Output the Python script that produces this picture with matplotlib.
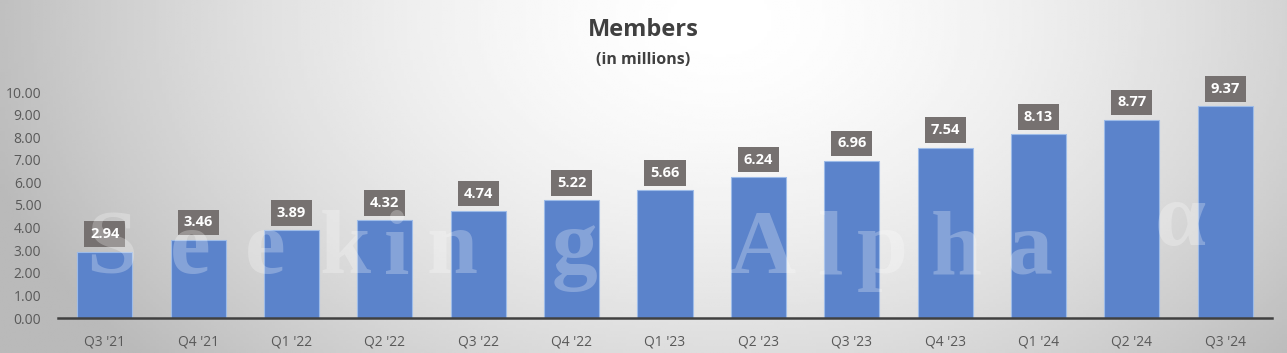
import matplotlib.pyplot as plt
import numpy as np

# ---------- data ----------
quarters = ["Q3 '21", "Q4 '21", "Q1 '22", "Q2 '22", "Q3 '22", "Q4 '22", "Q1 '23",
            "Q2 '23", "Q3 '23", "Q4 '23", "Q1 '24", "Q2 '24", "Q3 '24"]
members = [2.94, 3.46, 3.89, 4.32, 4.74, 5.22, 5.66, 6.24, 6.96, 7.54, 8.13, 8.77, 9.37]
y_ticks = [0, 1, 2, 3, 4, 5, 6, 7, 8, 9, 10]

BAR_COLOR = "#5b83cb"
LABEL_BG = "#767170"
TEXT_GRAY = "#595959"
FONT = "Open Sans"

W, H = 1287, 353
fig = plt.figure(figsize=(W / 100, H / 100), dpi=100)

# ---------- radial gradient background ----------
bg = fig.add_axes([0, 0, 1, 1], zorder=0)
xx, yy = np.meshgrid(np.linspace(0, W, 400), np.linspace(0, H, 120))
d = np.sqrt(((xx - 720) / 760) ** 2 + ((yy - 20) / 520) ** 2)
shade = 1 - 0.27 * np.clip(d, 0, 1) ** 1.6
bg.imshow(shade, cmap="gray", vmin=0, vmax=1, extent=[0, W, H, 0], aspect="auto")
bg.set_axis_off()

# ---------- bars ----------
ax = fig.add_axes([58 / W, 35 / H, (1272 - 58) / W, (318 - 92) / H], zorder=1)
ax.patch.set_alpha(0)
x = np.arange(len(quarters))
bars = ax.bar(x, members, width=0.59, color=BAR_COLOR, edgecolor="#9dbbe8",
              linewidth=0.8, zorder=2)

for xi, val in zip(x, members):
    ax.annotate(f"{val:.2f}", (xi, val), xytext=(0, 12.5), textcoords="offset points",
                ha="center", va="center", color="white", fontsize=10.5,
                fontweight="bold", family=FONT, annotation_clip=False, zorder=4,
                bbox=dict(boxstyle="square,pad=0.4", fc=LABEL_BG, ec="none"))

ax.set_xlim(-0.5, 12.5)
ax.set_ylim(0, 10)
ax.set_xticks(x)
ax.set_xticklabels(quarters)
ax.set_yticks(y_ticks)
ax.set_yticklabels([f"{v:.2f}" for v in y_ticks])
ax.tick_params(axis="both", length=0, labelsize=10, labelcolor=TEXT_GRAY)
ax.tick_params(axis="x", pad=12)
ax.tick_params(axis="y", pad=12)
for lab in ax.get_xticklabels() + ax.get_yticklabels():
    lab.set_family(FONT)

for side in ["top", "right", "left"]:
    ax.spines[side].set_visible(False)
ax.spines["bottom"].set_color("#404040")
ax.spines["bottom"].set_linewidth(1.8)
ax.spines["bottom"].set_zorder(3)

# ---------- titles ----------
fig.text(0.5, 1 - 30 / H, "Members", ha="center", va="center", fontsize=17,
         fontweight="bold", color="#404040", family=FONT)
fig.text(0.5, 1 - 60 / H, "(in millions)", ha="center", va="center", fontsize=11.5,
         fontweight="bold", color="#404040", family=FONT)

# ---------- watermark (wide letter-spaced, like the source logo) ----------
wm_letters = ["S", "e", "e", "k", "i", "n", "g", "A", "l", "p", "h", "a"]
wm_x = [112, 190, 265, 345, 397, 452, 575, 762, 830, 882, 956, 1030]
for ch, px in zip(wm_letters, wm_x):
    fig.text(px / W, 1 - 273 / H, ch, ha="center", va="baseline", fontsize=66,
             fontweight="bold", color="white", alpha=0.26,
             family="Liberation Serif", zorder=5)
fig.text(1180 / W, 1 - 245 / H, "\u03b1", ha="center", va="baseline", fontsize=66,
         fontweight="bold", color="white", alpha=0.26,
         family="Liberation Serif", zorder=5)

fig.savefig("out.png", dpi=100)
